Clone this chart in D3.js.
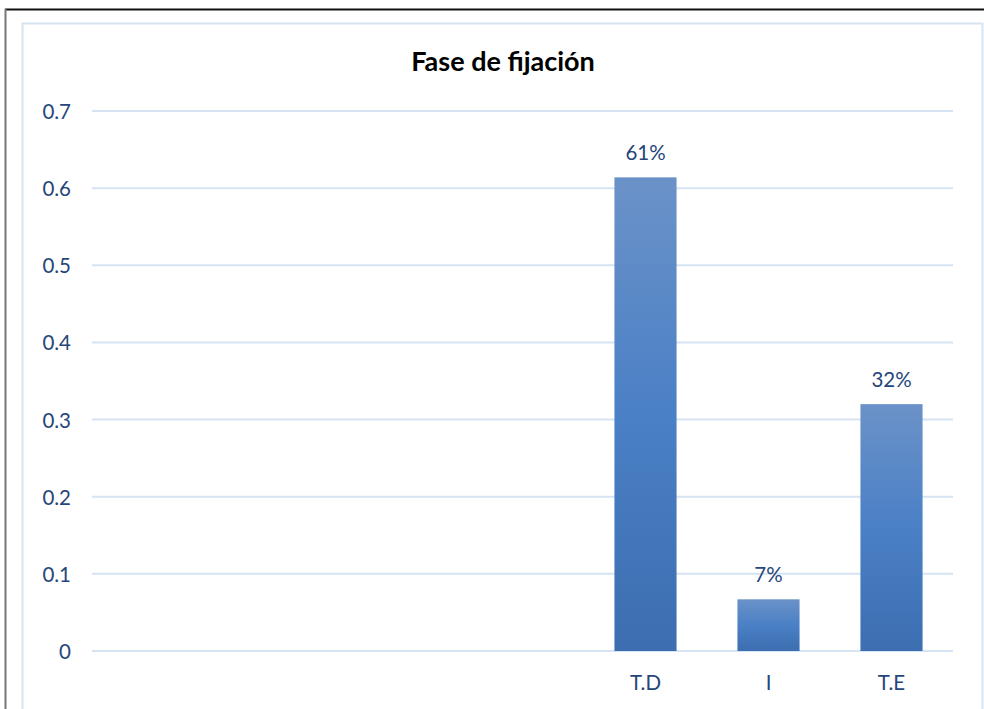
<!DOCTYPE html>
<html>
<head>
<meta charset="utf-8">
<script src="https://cdn.jsdelivr.net/npm/d3@7"></script>
<style>
  body { margin: 0; background: #fff; }
  svg { display: block; font-family: Lato, "Open Sans", sans-serif; }
</style>
</head>
<body>
<svg width="984" height="709"></svg>
<script>
// data
var categories = ["", "", "", "", "T.D", "I", "T.E"];
var values = [null, null, null, null, 0.614, 0.067, 0.32];
var labels = ["", "", "", "", "61%", "7%", "32%"];
var yTicks = [0, 0.1, 0.2, 0.3, 0.4, 0.5, 0.6, 0.7];

var svg = d3.select("svg");
var textColor = "#25467a";

// outer frame
svg.append("line").attr("x1", 5).attr("x2", 984).attr("y1", 9.5).attr("y2", 9.5)
	.attr("stroke", "#111").attr("stroke-width", 2);
svg.append("line").attr("x1", 5.5).attr("x2", 5.5).attr("y1", 9).attr("y2", 709)
	.attr("stroke", "#777").attr("stroke-width", 2);
// chart area border
svg.append("rect").attr("x", 22.5).attr("y", 23.5).attr("width", 960).attr("height", 700)
	.attr("fill", "none").attr("stroke", "#d6e3f3").attr("stroke-width", 2);

// gradient for bars
var grad = svg.append("defs").append("linearGradient")
	.attr("id", "barGrad").attr("x1", 0).attr("y1", 0).attr("x2", 0).attr("y2", 1);
grad.append("stop").attr("offset", "0%").attr("stop-color", "#6b92c8");
grad.append("stop").attr("offset", "50%").attr("stop-color", "#4a80c6");
grad.append("stop").attr("offset", "100%").attr("stop-color", "#3c6eb0");

var xScale = d3.scaleBand()
	.domain(d3.range(categories.length))
	.range([92, 953])
	.paddingInner(0.495)
	.paddingOuter(0.2475);

var yScale = d3.scaleLinear()
	.domain([0, 0.7])
	.range([651, 111]);

// gridlines
svg.append("g")
	.selectAll("line")
	.data(yTicks)
	.enter()
	.append("line")
	.attr("x1", 92).attr("x2", 953)
	.attr("y1", function(d) { return yScale(d); })
	.attr("y2", function(d) { return yScale(d); })
	.attr("stroke", "#d6e3f3").attr("stroke-width", 2);

// y axis labels
var yAxis = d3.axisLeft(yScale).tickValues(yTicks).tickSize(0).tickPadding(0)
	.tickFormat(function(d) { return d3.format("")(+d.toFixed(1)); });
var yg = svg.append("g")
	.attr("transform", "translate(71,1)")
	.call(yAxis);
yg.select(".domain").remove();
yg.selectAll("text").attr("fill", textColor).style("font-size", "20.5px")
	.style("font-family", "Lato, 'Open Sans', sans-serif");

// x axis labels
var xAxis = d3.axisBottom(xScale).tickSize(0).tickPadding(0)
	.tickFormat(function(i) { return categories[i]; });
var xg = svg.append("g")
	.attr("transform", "translate(0,675)")
	.call(xAxis);
xg.select(".domain").remove();
xg.selectAll("text").attr("fill", textColor).style("font-size", "20.5px")
	.style("font-family", "Lato, 'Open Sans', sans-serif");

// bars
var idx = d3.range(categories.length).filter(function(i) { return values[i] != null; });
svg.selectAll("rect.bar")
	.data(idx)
	.enter()
	.append("rect")
	.attr("class", "bar")
	.attr("x", function(i) { return xScale(i); })
	.attr("width", xScale.bandwidth())
	.attr("y", function(i) { return yScale(values[i]); })
	.attr("height", function(i) { return yScale(0) - yScale(values[i]); })
	.attr("fill", "url(#barGrad)");

// value labels
svg.selectAll("text.val")
	.data(idx)
	.enter()
	.append("text")
	.attr("class", "val")
	.attr("x", function(i) { return xScale(i) + xScale.bandwidth() / 2; })
	.attr("y", function(i) { return yScale(values[i]) - 17; })
	.attr("text-anchor", "middle")
	.attr("fill", textColor)
	.style("font-size", "20.5px")
	.text(function(i) { return labels[i]; });

// title
svg.append("text")
	.attr("x", 503).attr("y", 71)
	.attr("text-anchor", "middle")
	.attr("fill", "#000")
	.style("font-size", "27px")
	.style("font-weight", "bold")
	.text("Fase de fijación");
</script>
</body>
</html>
